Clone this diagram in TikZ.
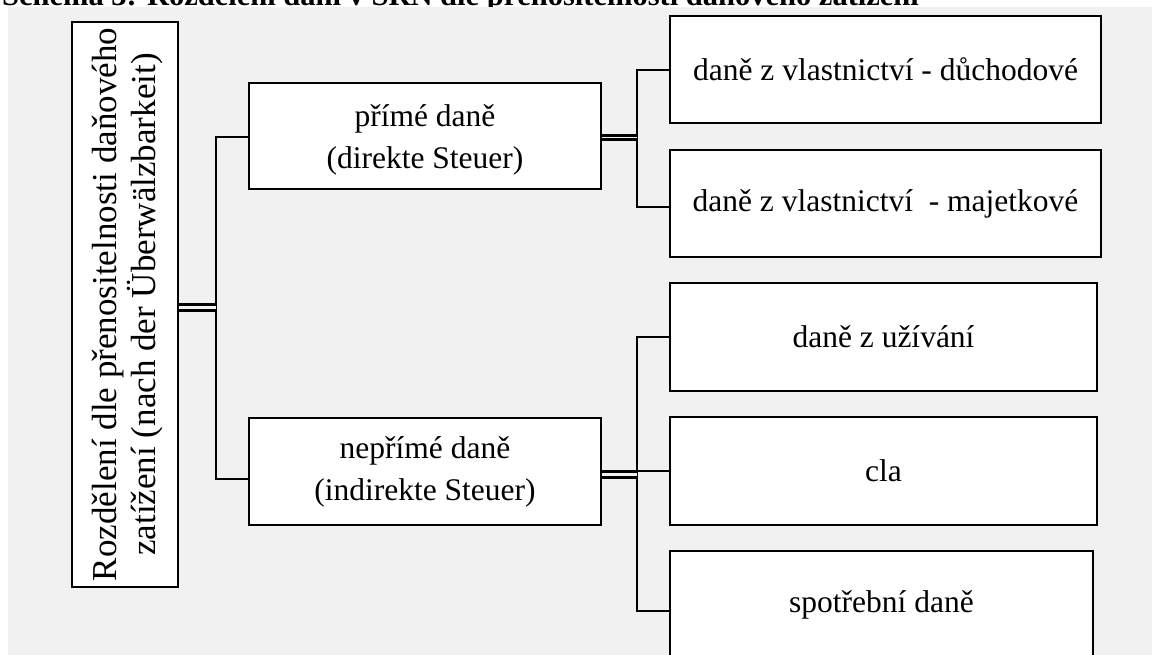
\documentclass[tikz,border=0pt]{standalone}
\usepackage{fontspec}
\setmainfont{Liberation Serif}
\definecolor{bg}{RGB}{241,241,241}
\begin{document}
\begin{tikzpicture}[x=1pt,y=-1pt,
  box/.style={draw=black, fill=white, line width=2.4pt, inner sep=0pt, align=center,
    font=\fontsize{31.5}{42}\selectfont},
  conn/.style={draw=black, line width=2.4pt},
  dbl/.style={draw=black, line width=2.6pt, double=bg, double distance=3pt}]
\useasboundingbox (0,0) rectangle (1152,655);
\fill[white] (0,0) rectangle (1152,655);
\node[anchor=base west, inner sep=0pt, font=\bfseries\fontsize{30.5}{36}\selectfont] (title) at (2,6)
  {Schéma 3: Rozdělení daní v SRN dle přenositelnosti daňového zatížení};
\fill[bg] (8,7) rectangle (1160,665);
% nodes
\node[box, minimum width=106pt, minimum height=565pt, font=\fontsize{35}{36}\selectfont] (l) at (125,304.5)
  {\rotatebox{90}{\raisebox{-4pt}[\height][\depth]{\begin{tabular}{@{}c@{}}Rozdělení dle přenositelnosti daňového\\ zatížení (nach der Überwälzbarkeit)\end{tabular}}}};
\node[box, minimum width=352pt, minimum height=106pt] (p) at (425,136)
  {\raisebox{-3.5pt}[\height][\depth]{\begin{tabular}{@{}c@{}}přímé daně\\(direkte Steuer)\end{tabular}}};
\node[box, minimum width=352pt, minimum height=107pt] (n) at (425,471.5) {nepřímé daně\\(indirekte Steuer)};
\node[box, minimum width=431pt, minimum height=107pt] (b1) at (885.5,69.5) {daně z vlastnictví - důchodové};
\node[box, minimum width=431pt, minimum height=107pt] (b2) at (885.5,203.5) {daně z vlastnictví\ \ - majetkové};
\node[box, minimum width=427pt, minimum height=108pt] (b3) at (883.5,337) {daně z užívání};
\node[box, minimum width=427pt, minimum height=108pt] (b4) at (883.5,471) {cla};
\node[box, minimum width=423pt, minimum height=108pt] (b5) at (881.5,605) {spotřební daně};
% trunks
\coordinate (t0) at (216,0);
\coordinate (t1) at (637,0);
% connectors left
\draw[conn] ([yshift=-1pt]p.west) -- ([yshift=-1pt]p.west -| t0) |- ([yshift=-7.5pt]n.west);
\draw[dbl] ([yshift=-3pt]l.east) -- ([yshift=-3pt]l.east -| t0);
% connectors right, upper
\draw[conn] ([yshift=-0.5pt]b1.west) -- ([yshift=-0.5pt]b1.west -| t1) |- ([yshift=-3.5pt]b2.west);
\draw[dbl, double distance=1.5pt] ([yshift=-1.7pt]p.east) -- ([yshift=-1.7pt]p.east -| t1);
% connectors right, lower
\draw[conn] (b3.west) -- (b3.west -| t1) |- ([yshift=-6pt]b5.west);
\draw[conn] (b4.west) -- (b4.west -| t1);
\draw[dbl] ([yshift=-3pt]n.east) -- ([yshift=-3pt]n.east -| t1);
\end{tikzpicture}
\end{document}
